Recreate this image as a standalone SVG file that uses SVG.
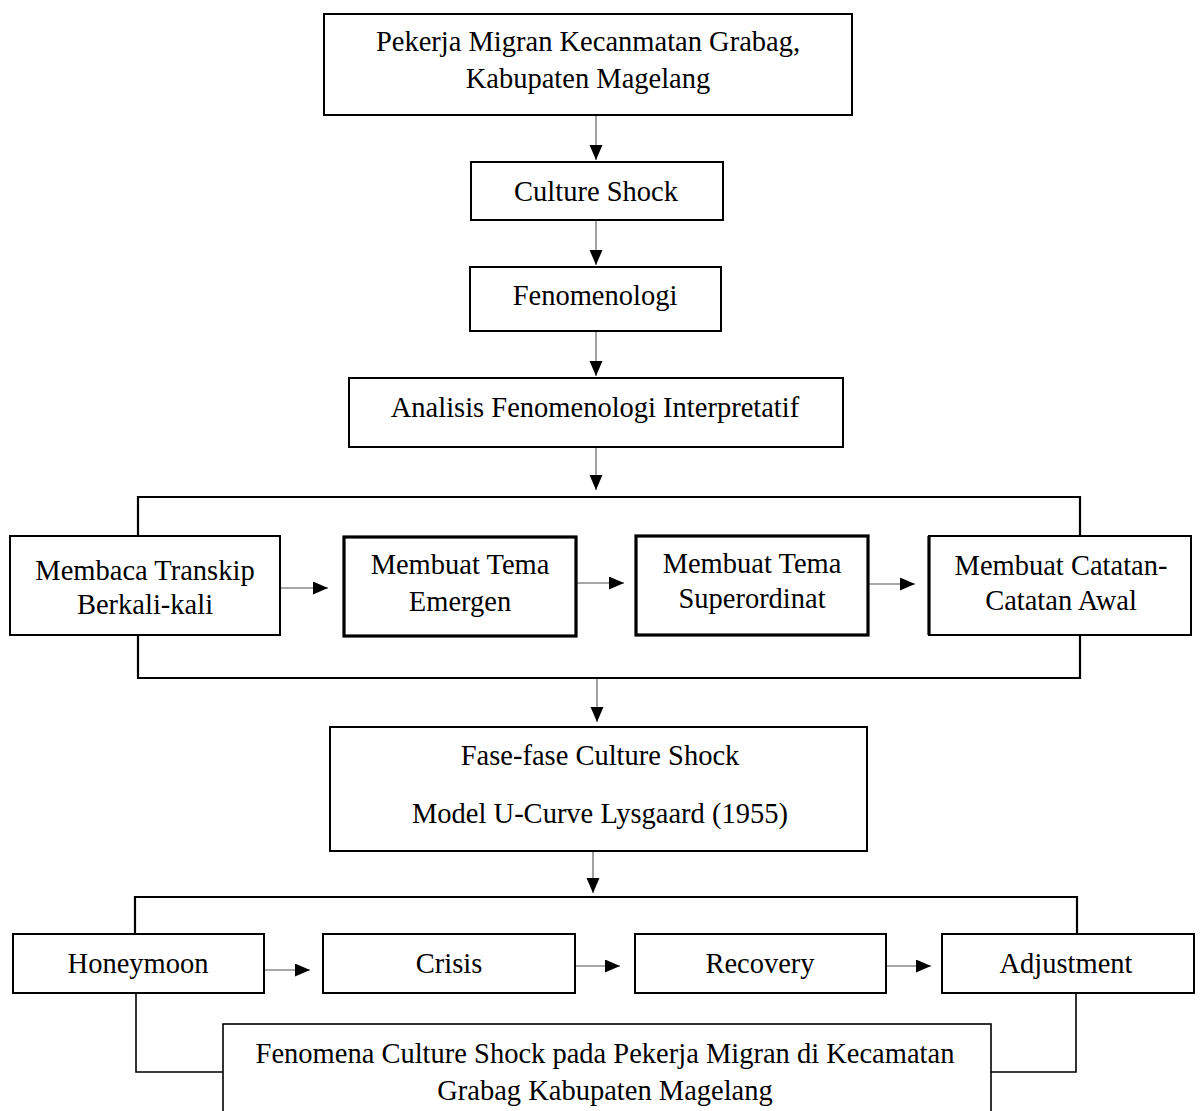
<svg xmlns="http://www.w3.org/2000/svg" width="1201" height="1111" viewBox="0 0 1201 1111">
<style>
.box{fill:#fff;stroke:#000;stroke-width:2}
.thick{stroke-width:3.2}
.thin{stroke-width:1.6}
.t{font-family:"Liberation Serif","Times New Roman",serif;font-size:28.5px;fill:#000;text-anchor:middle}
.arrow{fill:none;stroke:#8a8a8a;stroke-width:1.6;marker-end:url(#ah)}
.br{fill:none;stroke:#000;stroke-width:2.2}
.bl{fill:none;stroke:#000;stroke-width:1.6}
</style>
<defs>
<marker id="ah" markerUnits="userSpaceOnUse" markerWidth="16" markerHeight="14" refX="15" refY="6.5" orient="auto">
<path d="M0,0 L15,6.5 L0,13 z" fill="#000"/>
</marker>
</defs>
<rect width="1201" height="1111" fill="#fff"/>
<g id="connectors">
<line class="arrow" x1="596" y1="116" x2="596" y2="160"/>
<line class="arrow" x1="596" y1="221" x2="596" y2="265"/>
<line class="arrow" x1="596" y1="332" x2="596" y2="376"/>
<line class="arrow" x1="596" y1="448" x2="596" y2="490"/>
<polyline class="br" points="138,536 138,497 1080,497 1080,536"/>
<polyline class="br" points="138,636 138,678 1080,678 1080,636"/>
<line class="arrow" x1="281" y1="588" x2="328" y2="588"/>
<line class="arrow" x1="577" y1="583" x2="624" y2="583"/>
<line class="arrow" x1="869" y1="584" x2="915" y2="584"/>
<line class="arrow" x1="597" y1="679" x2="597" y2="722"/>
<line class="arrow" x1="593" y1="852" x2="593" y2="893"/>
<polyline class="br" points="135,934 135,897 1077,897 1077,934"/>
<line class="arrow" x1="265" y1="970" x2="310" y2="970"/>
<line class="arrow" x1="576" y1="966" x2="620" y2="966"/>
<line class="arrow" x1="887" y1="966" x2="931" y2="966"/>
<polyline class="bl" points="136,994 136,1072 223,1072"/>
<polyline class="bl" points="1076,994 1076,1072 991,1072"/>
</g>
<g id="n1"><rect class="box" x="324" y="14" width="528" height="101"/>
<text class="t" x="588" y="51">Pekerja Migran Kecanmatan Grabag,</text>
<text class="t" x="588" y="88">Kabupaten Magelang</text></g>
<g id="n2"><rect class="box" x="471" y="162" width="252" height="58"/>
<text class="t" x="596" y="201">Culture Shock</text></g>
<g id="n3"><rect class="box" x="470" y="267" width="251" height="64"/>
<text class="t" x="595" y="305">Fenomenologi</text></g>
<g id="n4"><rect class="box" x="349" y="378" width="494" height="69"/>
<text class="t" x="595" y="417">Analisis Fenomenologi Interpretatif</text></g>
<g id="n5"><rect class="box" x="10" y="536" width="270" height="99"/>
<text class="t" x="145" y="580">Membaca Transkip</text>
<text class="t" x="145" y="614">Berkali-kali</text></g>
<g id="n6"><rect class="box thick" x="344" y="537" width="232" height="99"/>
<text class="t" x="460" y="574">Membuat Tema</text>
<text class="t" x="460" y="611">Emergen</text></g>
<g id="n7"><rect class="box thick" x="636" y="536" width="232" height="99"/>
<text class="t" x="752" y="573">Membuat Tema</text>
<text class="t" x="752" y="608">Superordinat</text></g>
<g id="n8"><rect class="box" x="929" y="536" width="262" height="99"/>
<line x1="929" y1="536" x2="929" y2="635" stroke="#000" stroke-width="3.2"/>
<text class="t" x="1061" y="575">Membuat Catatan-</text>
<text class="t" x="1061" y="610">Catatan Awal</text></g>
<g id="n9"><rect class="box" x="330" y="727" width="537" height="124"/>
<text class="t" x="600" y="765">Fase-fase Culture Shock</text>
<text class="t" x="600" y="823">Model U-Curve Lysgaard (1955)</text></g>
<g id="n10"><rect class="box" x="13" y="934" width="251" height="59"/>
<text class="t" x="138" y="973">Honeymoon</text></g>
<g id="n11"><rect class="box" x="323" y="934" width="252" height="59"/>
<text class="t" x="449" y="973">Crisis</text></g>
<g id="n12"><rect class="box" x="635" y="934" width="251" height="59"/>
<text class="t" x="760" y="973">Recovery</text></g>
<g id="n13"><rect class="box" x="942" y="934" width="252" height="59"/>
<text class="t" x="1066" y="973">Adjustment</text></g>
<g id="n14"><rect class="box thin" x="223" y="1024" width="768" height="100"/>
<text class="t" x="605" y="1063">Fenomena Culture Shock pada Pekerja Migran di Kecamatan</text>
<text class="t" x="605" y="1100">Grabag Kabupaten Magelang</text></g>
</svg>
